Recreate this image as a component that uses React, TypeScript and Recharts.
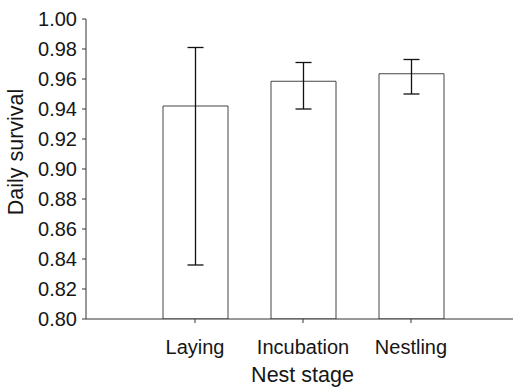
import React from "react";
import { BarChart, Bar, XAxis, YAxis, ErrorBar } from "recharts";

const stages = ["Laying", "Incubation", "Nestling"];
const survival = [0.942, 0.9585, 0.9635];
const ciLow = [0.836, 0.940, 0.950];
const ciHigh = [0.981, 0.971, 0.973];
const yTicks = [0.8, 0.82, 0.84, 0.86, 0.88, 0.9, 0.92, 0.94, 0.96, 0.98, 1.0];

const data = stages.map((s, i) => ({
  stage: s,
  value: survival[i],
  err: [survival[i] - ciLow[i], ciHigh[i] - survival[i]],
}));

const FONT = "'Liberation Sans', Arial, sans-serif";
const INK = "#161616";

const YTitle = () => (
  <text
    x={15.5}
    y={152}
    transform="rotate(-90,15.5,152)"
    textAnchor="middle"
    dominantBaseline="central"
    fontFamily={FONT}
    fontSize={21.5}
    fill={INK}
  >
    Daily survival
  </text>
);

export default function App() {
  return (
    <div style={{ position: "absolute", left: 0, top: 0, background: "#fff" }}>
      <BarChart
        width={513}
        height={387}
        data={data}
        margin={{ top: 19, right: 0, bottom: 0, left: 0 }}
      >
        <XAxis
          dataKey="stage"
          height={68}
          padding={{ left: 55, right: 48 }}
          tickSize={4}
          tickMargin={17}
          axisLine={{ stroke: "#333" }}
          tickLine={{ stroke: "#333" }}
          tick={{ fontFamily: FONT, fontSize: 20, fill: INK }}
          label={{
            value: "Nest stage",
            position: "insideBottom",
            offset: 5,
            dx: 3,
            style: { fontFamily: FONT, fontSize: 21.5, fill: INK },
          }}
        />
        <YAxis
          width={86}
          domain={[0.8, 1.0]}
          ticks={yTicks}
          allowDataOverflow
          interval={0}
          tickFormatter={(v: number) => v.toFixed(2)}
          tickSize={4}
          tickMargin={5}
          axisLine={{ stroke: "#333" }}
          tickLine={{ stroke: "#333" }}
          tick={{ fontFamily: FONT, fontSize: 20, fill: INK }}
          label={{ content: () => <YTitle /> }}
        />
        <Bar
          dataKey="value"
          barSize={65}
          fill="#fff"
          stroke="#444"
          strokeWidth={1}
          isAnimationActive={false}
        >
          <ErrorBar dataKey="err" width={8} stroke="#111" strokeWidth={1.3} />
        </Bar>
      </BarChart>
    </div>
  );
}
